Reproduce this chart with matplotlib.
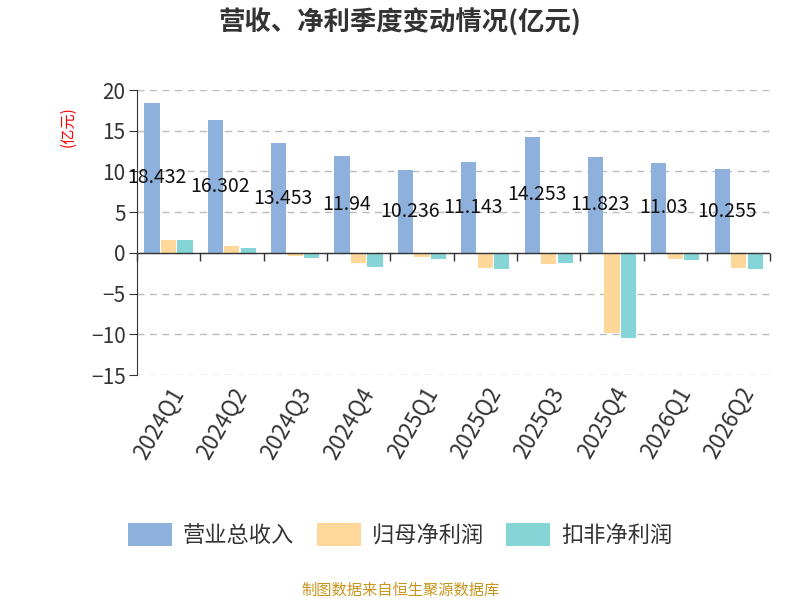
import numpy as np
import matplotlib.pyplot as plt

plt.rcParams['font.family'] = ['Noto Sans CJK SC', 'DejaVu Sans']

quarters = ["2024Q1", "2024Q2", "2024Q3", "2024Q4", "2025Q1",
            "2025Q2", "2025Q3", "2025Q4", "2026Q1", "2026Q2"]
revenue = [18.432, 16.302, 13.453, 11.94, 10.236, 11.143, 14.253, 11.823, 11.03, 10.255]
net_profit = [1.6, 0.8, -0.4, -1.2, -0.5, -1.8, -1.4, -9.8, -0.7, -1.9]
deducted = [1.6, 0.6, -0.6, -1.7, -0.8, -2.0, -1.3, -10.5, -0.9, -2.0]
rev_labels = ["18.432", "16.302", "13.453", "11.94", "10.236",
              "11.143", "14.253", "11.823", "11.03", "10.255"]

fig = plt.figure(figsize=(8, 6), dpi=100)
ax = fig.add_axes([0.171, 0.375, 0.792, 0.475])

x = np.arange(len(quarters))
w = 0.24
ax.bar(x - w - 0.02, revenue, w, color="#8eb0dc", label="营业总收入")
ax.bar(x, net_profit, w, color="#ffd899", label="归母净利润")
ax.bar(x + w + 0.02, deducted, w, color="#85d4d6", label="扣非净利润")

for xi, v, s in zip(x, revenue, rev_labels):
    ax.text(xi - w + 0.05, v / 2, s, ha="center", va="center", fontsize=14, color="#111111")

ax.set_xlim(-0.5, len(quarters) - 0.5)
ax.set_ylim(-15, 20)
ax.set_yticks([-15, -10, -5, 0, 5, 10, 15, 20])
ax.tick_params(axis="y", labelsize=15, colors="#333333", length=6, color="#333333", pad=2)
ax.grid(axis="y", linestyle=(0, (5, 4)), color="#bbbbbb", linewidth=1)
ax.set_axisbelow(True)
for sp in ["top", "right", "bottom"]:
    ax.spines[sp].set_visible(False)
ax.spines["left"].set_color("#333333")

ax.axhline(0, color="#333333", linewidth=1)
bounds = np.arange(len(quarters) + 1) - 0.5
ax.plot(bounds, np.zeros_like(bounds), linestyle="none", marker=3, markersize=6,
        color="#333333", clip_on=False)

ax.set_xticks(x)
ax.set_xticklabels(quarters, rotation=60, ha="right", rotation_mode="anchor", fontsize=16,
                   color="#333333")
ax.tick_params(axis="x", length=0, pad=6)

ax.set_ylabel("(亿元)", color="red", fontsize=11, labelpad=0)
ax.yaxis.set_label_coords(-0.095, 0.87)

fig.text(0.5, 0.962, "营收、净利季度变动情况(亿元)", ha="center", va="center",
         fontsize=19, fontweight="bold", color="#333333")

leg = fig.legend(loc="center", bbox_to_anchor=(0.5, 0.108), ncol=3, frameon=False,
                 fontsize=16, handlelength=2.0, handleheight=1.2, columnspacing=1.0,
                 handletextpad=0.5, labelcolor="#333333")

fig.text(0.5, 0.017, "制图数据来自恒生聚源数据库", ha="center", va="center",
         fontsize=11, color="#c8961e")

fig.savefig("out.png")
